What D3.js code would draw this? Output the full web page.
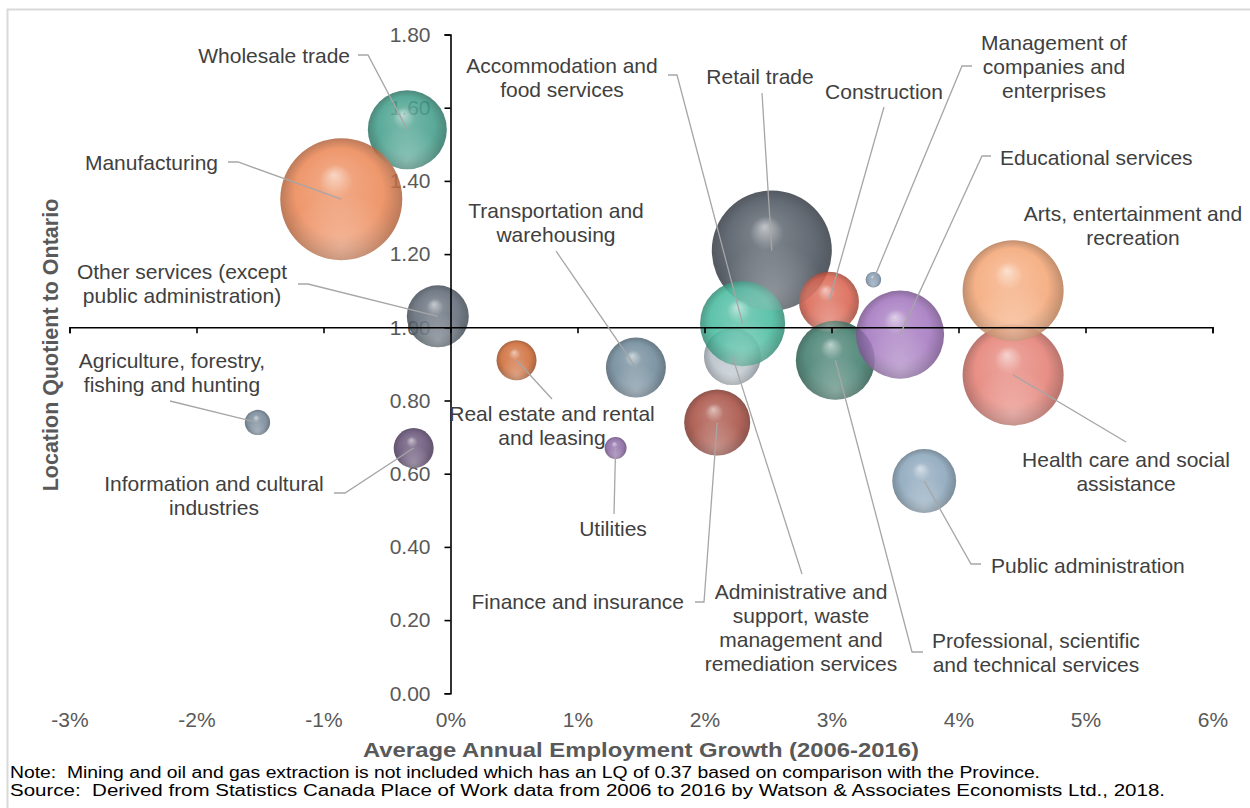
<!DOCTYPE html>
<html>
<head>
<meta charset="utf-8">
<script src="https://cdn.jsdelivr.net/npm/d3@7"></script>
<style>
  body { margin: 0; background: #fff; }
  text { font-family: "Liberation Sans", Arial, sans-serif; }
</style>
</head>
<body>
<svg id="canvas"></svg>
<script>
// drawn in this order (later = on top)
let industries = [
    'Retail trade', 'Wholesale trade', 'Manufacturing', 'Health care and social assistance',
    'Arts, entertainment and recreation',
    'Administrative and support, waste management and remediation services',
    'Accommodation and food services', 'Construction',
    'Professional, scientific and technical services', 'Educational services',
    'Other services (except public administration)', 'Transportation and warehousing',
    'Finance and insurance', 'Public administration', 'Real estate and rental and leasing',
    'Information and cultural industries', 'Agriculture, forestry, fishing and hunting',
    'Utilities', 'Management of companies and enterprises'
]
let growth = [2.53, -0.34, -0.86, 4.43, 4.43, 2.22, 2.30, 2.98, 3.03, 3.54, -0.10, 1.46, 2.10, 3.73, 0.52, -0.29, -1.52, 1.30, 3.33]
let lq = [1.21, 1.54, 1.35, 0.87, 1.10, 0.92, 1.01, 1.07, 0.91, 0.98, 1.03, 0.89, 0.74, 0.58, 0.91, 0.67, 0.74, 0.67, 1.13]
let size = [360, 156, 372, 255, 255, 81, 181, 90, 156, 194, 96, 90, 109, 102, 40, 40, 16, 12, 6]
let colors = ['#4a535e', '#3f9c88', '#ec8654', '#e47d72', '#f4a574', '#b4bec6', '#44b99c', '#d9604c',
    '#3d7a69', '#a173bd', '#5b6673', '#6a8596', '#a54b3e', '#86a2b8', '#cd6630', '#5f4a70',
    '#6f8293', '#8663a0', '#7f96ad']

let xTicks = [-3, -2, -1, 0, 1, 2, 3, 4, 5, 6]
let yTicks = [0, 0.2, 0.4, 0.6, 0.8, 1.0, 1.2, 1.4, 1.6, 1.8]

let notes = [
    'Note:  Mining and oil and gas extraction is not included which has an LQ of 0.37 based on comparison with the Province.',
    'Source:  Derived from Statistics Canada Place of Work data from 2006 to 2016 by Watson & Associates Economists Ltd., 2018.'
]
let noteWidths = [1030, 1155]

// label layout: lines, anchor, x, first baseline, leader start points (end = bubble centre)
let labelLayout = [
    { lines: ['Retail trade'], anchor: 'middle', x: 760, y: 84, leader: [[762, 93]] },
    { lines: ['Wholesale trade'], anchor: 'end', x: 350, y: 63, leader: [[358, 55], [368, 55]] },
    { lines: ['Manufacturing'], anchor: 'end', x: 218, y: 170, leader: [[228, 162], [238, 162]] },
    { lines: ['Health care and social', 'assistance'], anchor: 'middle', x: 1126, y: 467, leader: [[1126, 442]] },
    { lines: ['Arts, entertainment and', 'recreation'], anchor: 'middle', x: 1133, y: 221, leader: [] },
    { lines: ['Administrative and', 'support, waste', 'management and', 'remediation services'], anchor: 'middle', x: 801, y: 599, leader: [[802, 574]] },
    { lines: ['Accommodation and', 'food services'], anchor: 'middle', x: 562, y: 73, leader: [[668, 75], [677, 75]] },
    { lines: ['Construction'], anchor: 'middle', x: 884, y: 99, leader: [[884, 107]] },
    { lines: ['Professional, scientific', 'and technical services'], anchor: 'middle', x: 1036, y: 648, leader: [[923, 652], [912, 652]] },
    { lines: ['Educational services'], anchor: 'start', x: 1000, y: 165, leader: [[991, 156], [982, 156]] },
    { lines: ['Other services (except', 'public administration)'], anchor: 'middle', x: 182, y: 279, leader: [[298, 284], [308, 284]] },
    { lines: ['Transportation and', 'warehousing'], anchor: 'middle', x: 556, y: 218, leader: [[556, 251]] },
    { lines: ['Finance and insurance'], anchor: 'end', x: 684, y: 609, leader: [[695, 602], [704, 602]] },
    { lines: ['Public administration'], anchor: 'start', x: 991, y: 573, leader: [[981, 564], [971, 564]] },
    { lines: ['Real estate and rental', 'and leasing'], anchor: 'middle', x: 552, y: 421, leader: [[552, 399]] },
    { lines: ['Information and cultural', 'industries'], anchor: 'middle', x: 214, y: 491, leader: [[334, 493], [345, 493]] },
    { lines: ['Agriculture, forestry,', 'fishing and hunting'], anchor: 'middle', x: 172, y: 368, leader: [[170, 401]] },
    { lines: ['Utilities'], anchor: 'middle', x: 613, y: 536, leader: [[614, 514]] },
    { lines: ['Management of', 'companies and', 'enterprises'], anchor: 'middle', x: 1054, y: 50, leader: [[972, 66], [962, 66]] }
]

let width = 1250
let height = 808
let lineHeight = 24

let canvas = d3.select('#canvas')
    .attr('width', width)
    .attr('height', height)

let xScale = d3.scaleLinear().domain([-3, 6]).range([69.5, 1212.5])
let yScale = d3.scaleLinear().domain([0, 1.8]).range([693.3, 34.5])
let rScale = d3.scaleSqrt().domain([0, d3.max(size)]).range([0, 61])

let points = industries.map((name, i) => ({
    name: name, x: growth[i], y: lq[i], size: size[i], color: colors[i], i: i
}))

// chart frame
canvas.append('rect')
    .attr('x', 7.5).attr('y', 9.5)
    .attr('width', width).attr('height', height)
    .attr('fill', 'none')
    .attr('stroke', '#d9d9d9')
    .attr('stroke-width', 2)

// sphere gradients
let defs = canvas.append('defs')
points.forEach(p => {
    let g = defs.append('radialGradient')
        .attr('id', 'ball' + p.i)
        .attr('cx', '50%').attr('cy', '50%').attr('r', '50%')
        .attr('fx', '44%').attr('fy', '30%')
    g.append('stop').attr('offset', '0%').attr('stop-color', d3.interpolateRgb(p.color, '#fff')(0.6))
    g.append('stop').attr('offset', '28%').attr('stop-color', d3.interpolateRgb(p.color, '#fff')(0.12))
    g.append('stop').attr('offset', '72%').attr('stop-color', p.color)
    g.append('stop').attr('offset', '100%').attr('stop-color', d3.color(p.color).darker(0.8))
})
let shine = defs.append('radialGradient')
    .attr('id', 'shine')
    .attr('cx', '50%').attr('cy', '88%').attr('r', '45%')
shine.append('stop').attr('offset', '0%').attr('stop-color', '#fff').attr('stop-opacity', 0.3)
shine.append('stop').attr('offset', '100%').attr('stop-color', '#fff').attr('stop-opacity', 0)

let xAxis = d3.axisBottom(xScale)
    .tickValues(xTicks)
    .tickFormat(d => d + '%')
    .tickSizeInner(6)
    .tickSizeOuter(6)
    .tickPadding(379)
let yAxis = d3.axisLeft(yScale)
    .tickValues(yTicks)
    .tickFormat(d3.format('.2f'))
    .tickSize(6)
    .tickPadding(14)

let styleLabels = g => {
    g.selectAll('.tick text')
        .attr('fill', '#595959')
        .style('font-size', '21px')
        .style('font-family', '"Liberation Sans", Arial, sans-serif')
}

// tick labels below the bubbles
canvas.append('g')
    .attr('transform', 'translate(0,' + yScale(1) + ')')
    .call(xAxis)
    .call(g => g.select('.domain').remove())
    .call(g => g.selectAll('.tick line').remove())
    .call(styleLabels)
canvas.append('g')
    .attr('transform', 'translate(' + xScale(0) + ',0)')
    .call(yAxis)
    .call(g => g.select('.domain').remove())
    .call(g => g.selectAll('.tick line').remove())
    .call(styleLabels)

// bubbles
let bubbles = canvas.append('g')
bubbles.selectAll('circle.ball')
    .data(points)
    .enter()
    .append('circle')
    .attr('class', 'ball')
    .attr('cx', d => xScale(d.x))
    .attr('cy', d => yScale(d.y))
    .attr('r', d => rScale(d.size))
    .attr('fill', d => 'url(#ball' + d.i + ')')
    .attr('fill-opacity', 0.86)
bubbles.selectAll('circle.shine')
    .data(points)
    .enter()
    .append('circle')
    .attr('class', 'shine')
    .attr('cx', d => xScale(d.x))
    .attr('cy', d => yScale(d.y))
    .attr('r', d => rScale(d.size))
    .attr('fill', 'url(#shine)')

// axis lines on top
let lineAxis = g => {
    g.selectAll('.tick text').remove()
    g.selectAll('path, line').attr('stroke', '#000').attr('stroke-width', 1.6)
}
canvas.append('g')
    .attr('transform', 'translate(0,' + yScale(1) + ')')
    .call(xAxis)
    .call(lineAxis)
canvas.append('g')
    .attr('transform', 'translate(' + xScale(0) + ',0)')
    .call(yAxis)
    .call(lineAxis)

// leader lines
canvas.append('g')
    .selectAll('path')
    .data(points.filter(d => labelLayout[d.i].leader.length))
    .enter()
    .append('path')
    .attr('d', d => d3.line()(labelLayout[d.i].leader.concat([[xScale(d.x), yScale(d.y)]])))
    .attr('fill', 'none')
    .attr('stroke', '#a6a6a6')
    .attr('stroke-width', 1.3)

// data labels
let labels = canvas.append('g')
    .selectAll('text')
    .data(points)
    .enter()
    .append('text')
    .attr('text-anchor', d => labelLayout[d.i].anchor)
    .attr('fill', '#404040')
    .style('font-size', '21px')
labels.selectAll('tspan')
    .data(d => labelLayout[d.i].lines.map((t, k) => ({ t: t, k: k, lay: labelLayout[d.i] })))
    .enter()
    .append('tspan')
    .attr('x', d => d.lay.x)
    .attr('y', d => d.lay.y + d.k * lineHeight)
    .text(d => d.t)

// axis titles
canvas.append('text')
    .attr('x', 641)
    .attr('y', 757)
    .attr('text-anchor', 'middle')
    .attr('textLength', 556)
    .attr('lengthAdjust', 'spacingAndGlyphs')
    .attr('fill', '#595959')
    .style('font-size', '21px')
    .style('font-weight', 'bold')
    .text('Average Annual Employment Growth (2006-2016)')

canvas.append('text')
    .attr('transform', 'translate(58,345) rotate(-90)')
    .attr('text-anchor', 'middle')
    .attr('fill', '#595959')
    .style('font-size', '21.5px')
    .style('font-weight', 'bold')
    .text('Location Quotient to Ontario')

// notes
canvas.append('g')
    .selectAll('text')
    .data(notes)
    .enter()
    .append('text')
    .attr('x', 10)
    .attr('y', (d, i) => 778 + i * 18)
    .attr('fill', '#000')
    .attr('textLength', (d, i) => noteWidths[i])
    .attr('lengthAdjust', 'spacingAndGlyphs')
    .style('font-size', '16px')
    .style('white-space', 'pre')
    .text(d => d)
</script>
</body>
</html>
